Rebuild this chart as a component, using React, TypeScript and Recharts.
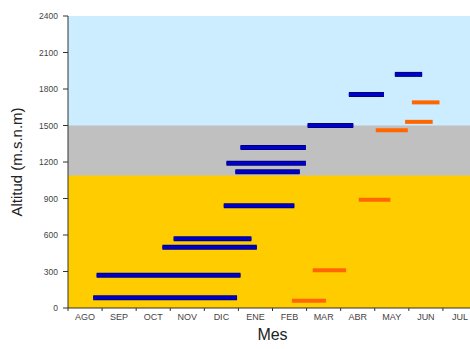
import { ComposedChart, Line, XAxis, YAxis, ReferenceArea } from 'recharts'

// month labels, one band per month (AGO..JUL)
const months = ['AGO', 'SEP', 'OCT', 'NOV', 'DIC', 'ENE', 'FEB', 'MAR', 'ABR', 'MAY', 'JUN', 'JUL']
const yTicks = [0, 300, 600, 900, 1200, 1500, 1800, 2100, 2400]

// altitude zones (upper limit of each), drawn stacked from 0 so no seams show
const zoneTop = [2400, 1500, 1090]
const zoneColors = ['#CCECFF', '#C0C0C0', '#FFCC00']

// blue segments: start month, end month, altitude
const blueStart = [0.74, 0.84, 2.77, 3.1, 4.57, 4.91, 4.65, 5.06, 7.03, 8.24, 9.59]
const blueEnd = [4.96, 5.06, 5.54, 5.38, 6.64, 6.8, 6.98, 6.98, 8.37, 9.27, 10.39]
const blueAlt = [85, 270, 500, 570, 840, 1120, 1190, 1320, 1500, 1755, 1920]

// orange segments
const orangeStart = [6.57, 7.18, 8.53, 9.03, 9.89, 10.09]
const orangeEnd = [7.57, 8.16, 9.46, 9.97, 10.7, 10.9]
const orangeAlt = [60, 310, 890, 1460, 1530, 1690]

const CHART_W = 480
const LEFT = 68
const RIGHT = 3
const BAND = (CHART_W - LEFT - RIGHT) / months.length

const blueSegs = blueStart.map((s, i) => [
  { x: s, y: blueAlt[i] },
  { x: blueEnd[i], y: blueAlt[i] },
])
const orangeSegs = orangeStart.map((s, i) => [
  { x: s, y: orangeAlt[i] },
  { x: orangeEnd[i], y: orangeAlt[i] },
])

const MonthTick = ({ x, y, payload }: any) => {
  const i = payload.value
  if (i >= months.length) return null
  return (
    <text x={x + BAND / 2} y={y + 7} textAnchor="middle" fontSize={9} fill="#444">
      {months[i]}
    </text>
  )
}

export default function App() {
  return (
    <div style={{ position: 'absolute', left: 0, top: 0, width: 470, height: 349, overflow: 'hidden', background: '#fff' }}>
      <ComposedChart
        width={CHART_W}
        height={349}
        margin={{ top: 16, right: RIGHT, bottom: 1, left: 8 }}
        style={{ fontFamily: 'Arial, "Liberation Sans", sans-serif' }}
      >
        {zoneTop.map((top, i) => (
          <ReferenceArea key={'z' + i} y1={0} y2={top} x1={0} x2={12} fill={zoneColors[i]} fillOpacity={1} stroke="none" ifOverflow="hidden" />
        ))}
        <XAxis
          type="number"
          dataKey="x"
          domain={[0, 12]}
          ticks={[0, 1, 2, 3, 4, 5, 6, 7, 8, 9, 10, 11, 12]}
          interval={0}
          tick={<MonthTick />}
          tickSize={3}
          tickLine={{ stroke: '#333' }}
          axisLine={{ stroke: '#333' }}
          height={40}
          label={{ value: 'Mes', position: 'insideBottom', offset: 8, fontSize: 16, fill: '#222' }}
        />
        <YAxis
          type="number"
          domain={[0, 2400]}
          ticks={yTicks}
          interval={0}
          width={60}
          tickSize={5}
          tickMargin={5}
          tick={{ fontSize: 8.5, fill: '#444' }}
          tickLine={{ stroke: '#333' }}
          axisLine={{ stroke: '#333' }}
          label={{ value: 'Altitud (m.s.n.m)', angle: -90, position: 'insideLeft', offset: 9, fontSize: 15, fill: '#222', style: { textAnchor: 'middle' } }}
        />
        {blueSegs.map((d, i) => (
          <Line key={'bo' + i} data={d} dataKey="y" stroke="#00007A" strokeWidth={5} dot={false} activeDot={false} isAnimationActive={false} />
        ))}
        {blueSegs.map((d, i) => (
          <Line key={'b' + i} data={d} dataKey="y" stroke="#0000CC" strokeWidth={3} dot={false} activeDot={false} isAnimationActive={false} />
        ))}
        {orangeSegs.map((d, i) => (
          <Line key={'o' + i} data={d} dataKey="y" stroke="#FF6600" strokeWidth={4} dot={false} activeDot={false} isAnimationActive={false} />
        ))}
      </ComposedChart>
    </div>
  )
}
